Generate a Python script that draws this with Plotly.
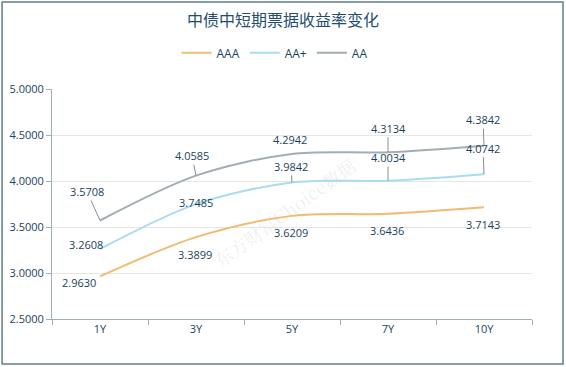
import plotly.graph_objects as go

categories = ["1Y", "3Y", "5Y", "7Y", "10Y"]
aaa = [2.9630, 3.3899, 3.6209, 3.6436, 3.7143]
aa_plus = [3.2608, 3.7485, 3.9842, 4.0034, 4.0742]
aa = [3.5708, 4.0585, 4.2942, 4.3134, 4.3842]
y_ticks = [2.5, 3.0, 3.5, 4.0, 4.5, 5.0]

series = [
    ("AAA", aaa, "#f1bb72"),
    ("AA+", aa_plus, "#a9dcf0"),
    ("AA", aa, "#a3adb3"),
]

# label offsets (pixels) relative to the point, and whether a leader line is drawn
offsets = {
    "AAA": [(-21, 6, False), (-1, 17, False), (-1, 17, False), (-1, 17, False), (-1, 17, False)],
    "AA+": [(-14, -5, False), (0, -2, False), (-1, -16, True), (0, -23, True), (-1, -26, True)],
    "AA": [(-13, -29, True), (-4, -20, True), (-2, -14, False), (0, -24, True), (-1, -26, True)],
}

text_color = "#1d3f5e"
font_num = "Open Sans, Noto Sans, sans-serif"

fig = go.Figure()
for name, vals, color in series:
    fig.add_trace(go.Scatter(
        x=categories, y=vals, name=name, mode="lines",
        line=dict(color=color, width=2, shape="spline", smoothing=0.9),
        hoverinfo="skip",
    ))

annotations = []
for name, vals, color in series:
    for i, (c, v) in enumerate(zip(categories, vals)):
        ax, ay, leader = offsets[name][i]
        if leader:
            annotations.append(dict(
                x=c, y=v, xref="x", yref="y", text=f"{v:.4f}",
                showarrow=True, arrowhead=0, arrowwidth=1, arrowcolor="#8c8c8c",
                ax=ax, ay=ay, standoff=0, startstandoff=0,
                font=dict(size=11, color=text_color, family=font_num),
            ))
        else:
            annotations.append(dict(
                x=c, y=v, xref="x", yref="y", text=f"{v:.4f}",
                showarrow=False, xshift=ax, yshift=-ay,
                font=dict(size=11, color=text_color, family=font_num),
            ))

annotations.append(dict(
    x=0.485, y=0.465, xref="paper", yref="paper", text="东方财富Choice数据",
    showarrow=False, textangle=-36,
    font=dict(size=18, color="rgba(200,200,200,0.28)", family="Noto Serif CJK SC, Noto Sans CJK SC, serif"),
))

fig.update_layout(
    width=566, height=367,
    margin=dict(l=52, r=34, t=89, b=48, autoexpand=False),
    paper_bgcolor="white", plot_bgcolor="white",
    title=dict(text="中债中短期票据收益率变化", x=0.5, xref="container", y=0.945, yanchor="middle",
               font=dict(size=16, color="#1f4e6e", family="Noto Sans CJK SC, sans-serif")),
    legend=dict(orientation="h", x=0.485, xanchor="center", xref="container",
                y=0.856, yanchor="middle", yref="container",
                font=dict(size=12, color=text_color, family=font_num),
                itemwidth=30, tracegroupgap=0, bgcolor="rgba(0,0,0,0)"),
    showlegend=True,
    annotations=annotations,
    shapes=[dict(type="rect", xref="paper", yref="paper", x0=-0.104, x1=1.0646, y0=-0.196, y1=1.378,
                 line=dict(color="#5f7f87", width=1.5), fillcolor="rgba(0,0,0,0)", layer="below")],
)

fig.update_xaxes(
    type="category", showline=True, linecolor="#a0aeb6", linewidth=1,
    ticks="outside", tickson="boundaries", ticklen=5, tickcolor="#a0aeb6",
    showgrid=False, tickfont=dict(size=11, color=text_color, family=font_num),
    range=[-0.5, 4.5], automargin=False,
)
fig.update_yaxes(
    range=[2.5, 5.0], tickvals=y_ticks, tickformat=".4f",
    showline=True, linecolor="#a0aeb6", linewidth=1,
    ticks="outside", ticklen=5, tickcolor="#a0aeb6",
    showgrid=True, gridcolor="#e6e6e6", gridwidth=1, zeroline=False,
    tickfont=dict(size=11, color=text_color, family=font_num), automargin=False,
)

fig.write_html("out.html", config={"displayModeBar": False},
               post_script="document.body.style.margin='0';document.body.style.overflow='hidden';")
